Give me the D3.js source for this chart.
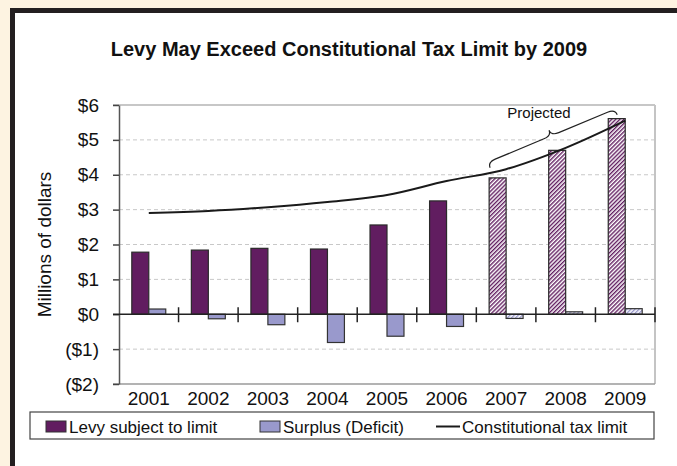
<!DOCTYPE html>
<html>
<head>
<meta charset="utf-8">
<script src="https://cdn.jsdelivr.net/npm/d3@7"></script>
<style>
  body { margin: 0; background: #fdf3e1; }
  text { font-family: "Liberation Sans", Arial, sans-serif; fill: #111; }
</style>
</head>
<body>
<div id="chart"></div>
<script>
var years = ["2001", "2002", "2003", "2004", "2005", "2006", "2007", "2008", "2009"];
var levy = [1.78, 1.84, 1.89, 1.87, 2.56, 3.25, 3.91, 4.70, 5.61];
var surplus = [0.15, -0.13, -0.30, -0.81, -0.63, -0.35, -0.12, 0.07, 0.16];
var taxLimit = [2.90, 2.96, 3.07, 3.22, 3.42, 3.82, 4.16, 4.77, 5.55];
var projectedYears = ["2007", "2008", "2009"];
var yTicks = [-2, -1, 0, 1, 2, 3, 4, 5, 6];
var legendLabels = ["Levy subject to limit", "Surplus (Deficit)", "Constitutional tax limit"];

var width = 677, height = 466;
var margin = {top: 105, right: 22, bottom: 82, left: 119};

var levyColor = "#611d60", surplusColor = "#9999cc";

var svg = d3.select("#chart").append("svg")
    .attr("width", width)
    .attr("height", height);

// hatch patterns for projected years
var defs = svg.append("defs");
function hatch(id, color) {
    var s = 2.9;
    var p = defs.append("pattern")
        .attr("id", id)
        .attr("patternUnits", "userSpaceOnUse")
        .attr("width", s).attr("height", s)
        .attr("patternTransform", "rotate(45)");
    p.append("rect").attr("width", s).attr("height", s).attr("fill", "#fff");
    p.append("line").attr("x1", 0.7).attr("y1", 0).attr("x2", 0.7).attr("y2", s)
        .attr("stroke", color).attr("stroke-width", 1.4);
}
hatch("hatchLevy", levyColor);
hatch("hatchSurplus", surplusColor);

// frame
svg.append("rect").attr("x", 10).attr("y", 8).attr("width", width - 10).attr("height", height - 8).attr("fill", "#fff");
svg.append("rect").attr("x", 10).attr("y", 8).attr("width", 5).attr("height", height - 8).attr("fill", "#231f20");
svg.append("rect").attr("x", 10).attr("y", 8).attr("width", width - 10).attr("height", 5).attr("fill", "#231f20");

svg.append("text")
    .attr("x", 349).attr("y", 56)
    .attr("text-anchor", "middle")
    .style("font-size", "20px").style("font-weight", "bold")
    .text("Levy May Exceed Constitutional Tax Limit by 2009");

var x = d3.scaleBand().domain(years).range([margin.left, width - margin.right]);
var y = d3.scaleLinear().domain([-2, 6]).range([height - margin.bottom, margin.top]);
var bw = x.bandwidth() * 0.285;
var cx = function(d) { return x(d) + x.bandwidth() / 2; };

// gridlines
svg.append("g").selectAll("line")
    .data(yTicks.filter(function(d) { return d !== 0 && d !== 6 && d !== -2; }))
    .enter().append("line")
    .attr("x1", margin.left).attr("x2", width - margin.right)
    .attr("y1", function(d) { return y(d); }).attr("y2", function(d) { return y(d); })
    .attr("stroke", "#c8c8c8").attr("stroke-dasharray", "4,3");

// plot box (top, right, bottom)
svg.append("line").attr("x1", margin.left - 6).attr("x2", width - margin.right)
    .attr("y1", y(6)).attr("y2", y(6)).attr("stroke", "#b4b4b4").attr("stroke-width", 1.5);
svg.append("line").attr("x1", width - margin.right).attr("x2", width - margin.right)
    .attr("y1", y(6)).attr("y2", y(-2)).attr("stroke", "#c4c4c4").attr("stroke-width", 2);
svg.append("line").attr("x1", margin.left - 6).attr("x2", width - margin.right)
    .attr("y1", y(-2)).attr("y2", y(-2)).attr("stroke", "#9a9a9a").attr("stroke-width", 1.5);

// y axis
var fmt = function(v) { return v < 0 ? "($" + (-v) + ")" : "$" + v; };
var yAxis = svg.append("g")
    .attr("transform", "translate(" + margin.left + ",0)")
    .call(d3.axisLeft(y).tickValues(yTicks).tickFormat(fmt).tickSize(6).tickSizeOuter(0).tickPadding(14));
yAxis.select(".domain").attr("stroke", "#555").attr("stroke-width", 1.5);
yAxis.selectAll(".tick line").attr("stroke", "#444").attr("stroke-width", 1.5);
yAxis.selectAll(".tick text").style("font-size", "19px").attr("fill", "#111")
    .attr("font-family", "Liberation Sans, Arial, sans-serif");

svg.append("text")
    .attr("transform", "translate(51," + y(2) + ") rotate(-90)")
    .attr("text-anchor", "middle")
    .style("font-size", "19px")
    .text("Millions of dollars");

var proj = function(d) { return projectedYears.indexOf(d) >= 0; };

// levy bars
svg.selectAll(".levy")
    .data(years)
    .enter().append("rect")
    .attr("class", "levy")
    .attr("x", function(d) { return cx(d) - bw; })
    .attr("width", bw)
    .attr("y", function(d, i) { return y(levy[i]); })
    .attr("height", function(d, i) { return y(0) - y(levy[i]); })
    .attr("fill", function(d) { return proj(d) ? "url(#hatchLevy)" : levyColor; })
    .attr("stroke", "#2a2a2a").attr("stroke-width", 1.2);

// surplus bars
svg.selectAll(".surplus")
    .data(years)
    .enter().append("rect")
    .attr("class", "surplus")
    .attr("x", function(d) { return cx(d); })
    .attr("width", bw)
    .attr("y", function(d, i) { return y(Math.max(0, surplus[i])); })
    .attr("height", function(d, i) { return Math.abs(y(0) - y(surplus[i])); })
    .attr("fill", function(d) { return proj(d) ? "url(#hatchSurplus)" : surplusColor; })
    .attr("stroke", "#333").attr("stroke-width", 1.2);

// zero line with category ticks
svg.append("line").attr("x1", margin.left - 6).attr("x2", width - margin.right)
    .attr("y1", y(0)).attr("y2", y(0)).attr("stroke", "#222").attr("stroke-width", 1.5);
svg.append("g").selectAll("line")
    .data(years)
    .enter().append("line")
    .attr("x1", function(d) { return x(d) + x.bandwidth(); })
    .attr("x2", function(d) { return x(d) + x.bandwidth(); })
    .attr("y1", y(0) - 7).attr("y2", y(0) + 8)
    .attr("stroke", "#222").attr("stroke-width", 1.5);

// x labels
svg.append("g").selectAll("text")
    .data(years)
    .enter().append("text")
    .attr("x", cx).attr("y", y(-2) + 21)
    .attr("text-anchor", "middle")
    .style("font-size", "19px")
    .text(function(d) { return d; });

// tax limit line
var line = d3.line()
    .x(function(d) { return cx(d); })
    .y(function(d, i) { return y(taxLimit[i]); })
    .curve(d3.curveCatmullRom.alpha(0.5));
svg.append("path")
    .datum(years)
    .attr("d", line)
    .attr("fill", "none").attr("stroke", "#1a1a1a").attr("stroke-width", 2);

// "Projected" brace
var p1 = [cx("2007") - 16, y(4.2)], p2 = [cx("2009") - 8, y(5.72)];
var L = Math.hypot(p2[0] - p1[0], p2[1] - p1[1]);
var ang = Math.atan2(p2[1] - p1[1], p2[0] - p1[0]) * 180 / Math.PI;
var h = 12, r = 8;
var brace = "M0,0 Q0," + (-h / 2) + " " + r + "," + (-h / 2) +
    " L" + (L / 2 - r) + "," + (-h / 2) +
    " Q" + (L / 2) + "," + (-h / 2) + " " + (L / 2) + "," + (-h) +
    " Q" + (L / 2) + "," + (-h / 2) + " " + (L / 2 + r) + "," + (-h / 2) +
    " L" + (L - r) + "," + (-h / 2) +
    " Q" + L + "," + (-h / 2) + " " + L + ",0";
svg.append("path")
    .attr("transform", "translate(" + p1[0] + "," + p1[1] + ") rotate(" + ang + ")")
    .attr("d", brace)
    .attr("fill", "none").attr("stroke", "#222").attr("stroke-width", 1.2);
svg.append("text")
    .attr("x", 539).attr("y", 118)
    .attr("text-anchor", "middle")
    .style("font-size", "15px")
    .text("Projected");

// legend
var lg = svg.append("g");
lg.append("rect").attr("x", 30).attr("y", 412).attr("width", 624).attr("height", 27)
    .attr("fill", "#fff").attr("stroke", "#444").attr("stroke-width", 1.2);
lg.append("rect").attr("x", 46).attr("y", 421).attr("width", 20).attr("height", 11)
    .attr("fill", levyColor).attr("stroke", "#333");
lg.append("rect").attr("x", 260).attr("y", 421).attr("width", 20).attr("height", 11)
    .attr("fill", surplusColor).attr("stroke", "#333");
lg.append("line").attr("x1", 436).attr("x2", 460).attr("y1", 426.5).attr("y2", 426.5)
    .attr("stroke", "#1a1a1a").attr("stroke-width", 2);
lg.selectAll("text")
    .data(legendLabels)
    .enter().append("text")
    .attr("x", function(d, i) { return [69, 283, 462][i]; })
    .attr("y", 433)
    .style("font-size", "17px")
    .text(function(d) { return d; });
</script>
</body>
</html>
